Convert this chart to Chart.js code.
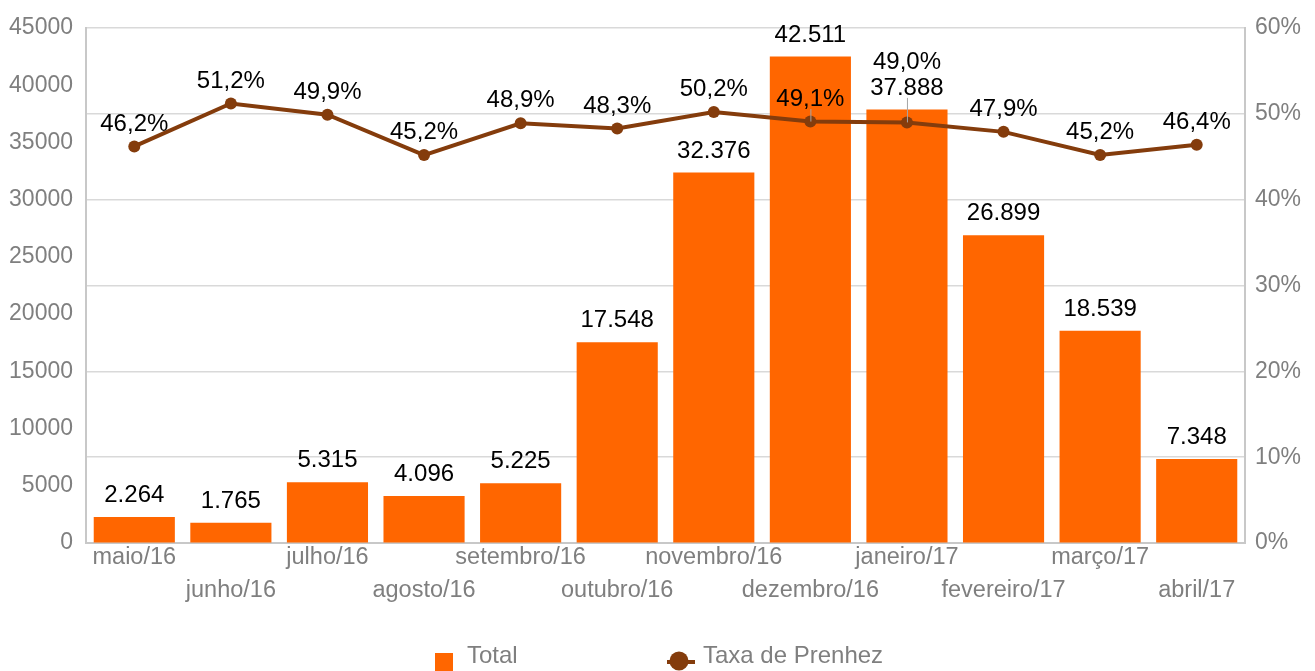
<!DOCTYPE html>
<html>
<head>
<meta charset="utf-8">
<script src="https://cdn.jsdelivr.net/npm/chart.js@4/dist/chart.umd.min.js"></script>
<style>
html,body{margin:0;padding:0;background:#fff;}
#wrap{width:1315px;height:671px;}
</style>
</head>
<body>
<div id="wrap"><canvas id="c" width="1315" height="671"></canvas></div>
<script>
const categories = ['maio/16','junho/16','julho/16','agosto/16','setembro/16','outubro/16','novembro/16','dezembro/16','janeiro/17','fevereiro/17','março/17','abril/17'];
const totalValues = [2264, 1765, 5315, 4096, 5225, 17548, 32376, 42511, 37888, 26899, 18539, 7348];
const taxaValues = [46.2, 51.2, 49.9, 45.2, 48.9, 48.3, 50.2, 49.1, 49.0, 47.9, 45.2, 46.4];
const leftTicks = [0, 5000, 10000, 15000, 20000, 25000, 30000, 35000, 40000, 45000];
const rightTicks = [0, 10, 20, 30, 40, 50, 60];

const FONT = "'Liberation Sans', Arial, sans-serif";
const BAR_COLOR = '#FF6600';
const LINE_COLOR = '#843C0C';
const GREY_TEXT = '#7f7f7f';

function fmtTotal(v){ return String(v).replace(/\B(?=(\d{3})+(?!\d))/g, '.'); }
function fmtPct(v){ return v.toFixed(1).replace('.', ',') + '%'; }

const labelPlugin = {
  id: 'labels',
  afterDatasetsDraw(chart) {
    const ctx = chart.ctx;
    const barMeta = chart.getDatasetMeta(0);
    const lineMeta = chart.getDatasetMeta(1);
    ctx.save();
    ctx.font = '24px ' + FONT;
    ctx.fillStyle = '#000';
    ctx.textAlign = 'center';
    ctx.textBaseline = 'middle';
    const barLabelY = [];
    barMeta.data.forEach((el, i) => {
      const y = el.y - 21.5;
      barLabelY.push(y);
      ctx.fillText(fmtTotal(totalValues[i]), el.x, y);
    });
    lineMeta.data.forEach((pt, i) => {
      let y = pt.y - 22.5;
      let leader = false;
      if (Math.abs(y - barLabelY[i]) < 24) { y = barLabelY[i] - 26; leader = true; }
      const barEl = barMeta.data[i];
      if (y > barEl.y) leader = true;
      if (leader) {
        ctx.strokeStyle = '#a6a6a6';
        ctx.lineWidth = 1;
        const top = (y > barEl.y ? y : barLabelY[i]) + 10;
        ctx.beginPath();
        ctx.moveTo(pt.x + 0.5, top);
        ctx.lineTo(pt.x + 0.5, pt.y);
        ctx.stroke();
      }
      ctx.fillText(fmtPct(taxaValues[i]), pt.x, y);
    });
    ctx.restore();
  }
};

const legendPlugin = {
  id: 'customLegend',
  afterDraw(chart) {
    const ctx = chart.ctx;
    ctx.save();
    ctx.fillStyle = BAR_COLOR;
    ctx.fillRect(435, 653, 18, 18);
    ctx.font = '24px ' + FONT;
    ctx.fillStyle = GREY_TEXT;
    ctx.textAlign = 'left';
    ctx.textBaseline = 'middle';
    ctx.fillText('Total', 467, 656);
    ctx.strokeStyle = LINE_COLOR;
    ctx.lineWidth = 4;
    ctx.beginPath();
    ctx.moveTo(667, 662);
    ctx.lineTo(695, 662);
    ctx.stroke();
    ctx.fillStyle = LINE_COLOR;
    ctx.beginPath();
    ctx.arc(679, 661, 9.5, 0, Math.PI * 2);
    ctx.fill();
    ctx.fillStyle = GREY_TEXT;
    ctx.fillText('Taxa de Prenhez', 703, 656);
    ctx.restore();
  }
};

new Chart(document.getElementById('c'), {
  data: {
    labels: categories,
    datasets: [
      {
        type: 'bar',
        label: 'Total',
        data: totalValues,
        backgroundColor: BAR_COLOR,
        borderWidth: 0,
        barPercentage: 0.84,
        categoryPercentage: 1.0,
        yAxisID: 'y',
        order: 2
      },
      {
        type: 'line',
        label: 'Taxa de Prenhez',
        data: taxaValues,
        borderColor: LINE_COLOR,
        backgroundColor: LINE_COLOR,
        borderWidth: 4,
        pointRadius: 6,
        pointBackgroundColor: LINE_COLOR,
        pointBorderWidth: 0,
        tension: 0,
        yAxisID: 'y2',
        order: 1
      }
    ]
  },
  options: {
    responsive: false,
    animation: false,
    layout: { padding: { top: 28, left: 0, right: 0, bottom: 0 } },
    plugins: { legend: { display: false }, tooltip: { enabled: false } },
    scales: {
      x: {
        grid: { display: false, drawTicks: false },
        border: { display: true, color: '#c8c8c8', width: 2 },
        ticks: {
          autoSkip: false,
          maxRotation: 0,
          padding: -2,
          color: GREY_TEXT,
          font: { family: FONT, size: 23.5, lineHeight: '33px' },
          callback: (v, i) => (i % 2 === 0 ? [categories[i]] : ['', categories[i]])
        },
        afterFit(scale) { scale.height = 128; }
      },
      y: {
        position: 'left',
        min: 0, max: 45000,
        afterBuildTicks(scale) { scale.ticks = leftTicks.map(v => ({ value: v })); },
        grid: { drawOnChartArea: false, drawTicks: false },
        border: { display: true, color: '#c8c8c8', width: 2 },
        ticks: { padding: 13, color: GREY_TEXT, font: { family: FONT, size: 23 }, callback: v => String(v) },
        afterFit(scale) { scale.width = 86; }
      },
      y2: {
        position: 'right',
        min: 0, max: 60,
        afterBuildTicks(scale) { scale.ticks = rightTicks.map(v => ({ value: v })); },
        grid: { drawOnChartArea: true, drawTicks: false, color: '#d9d9d9', lineWidth: 1.5 },
        border: { display: true, color: '#c8c8c8', width: 2 },
        ticks: { padding: 10, color: GREY_TEXT, font: { family: FONT, size: 23 }, callback: v => v + '%' },
        afterFit(scale) { scale.width = 70; }
      }
    }
  },
  plugins: [labelPlugin, legendPlugin]
});
</script>
</body>
</html>
